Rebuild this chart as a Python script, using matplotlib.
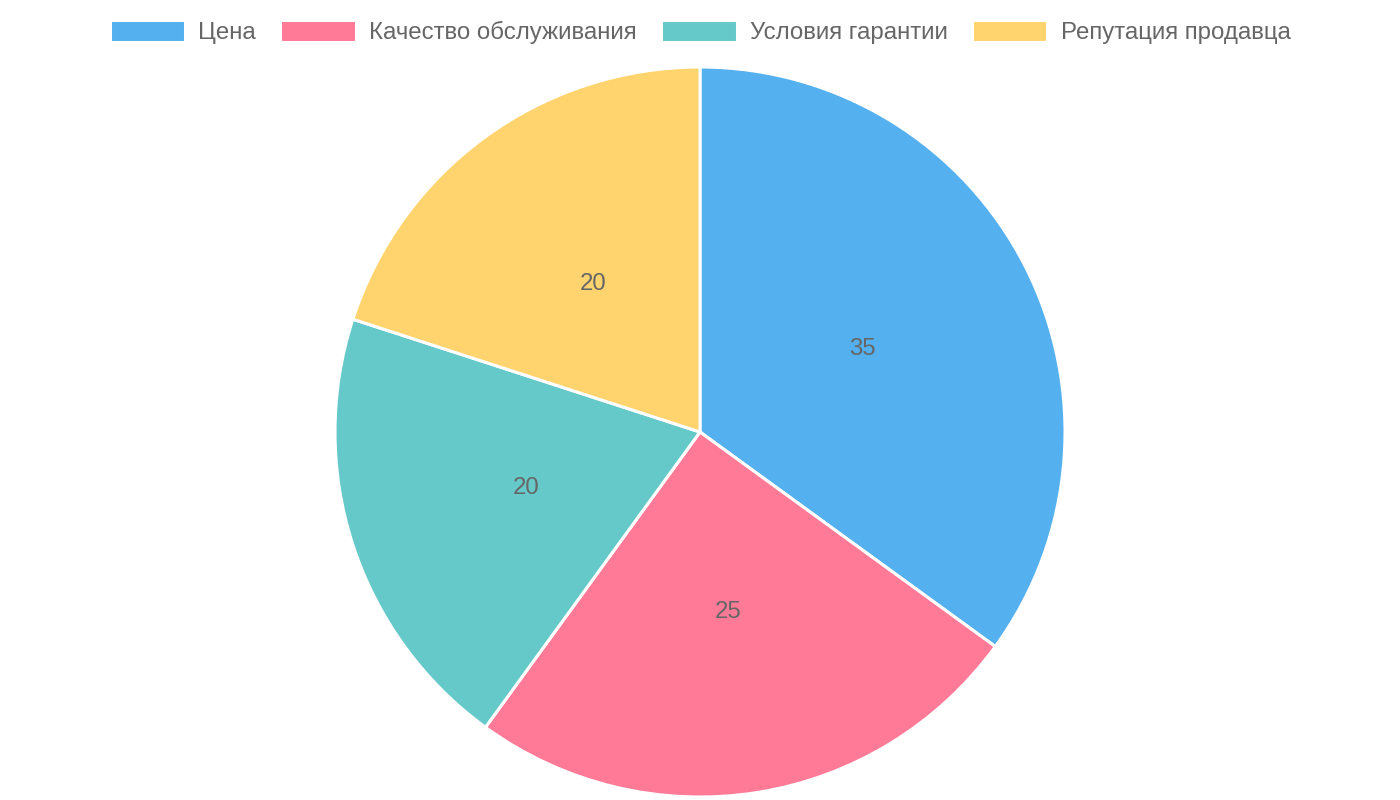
import matplotlib
matplotlib.use("Agg")
import matplotlib.pyplot as plt

labels = ["Цена", "Качество обслуживания", "Условия гарантии", "Репутация продавца"]
values = [35, 25, 20, 20]
colors = ["#54b0ee", "#ff7a96", "#66c9c9", "#ffd46f"]

plt.rcParams["font.family"] = ["Liberation Sans", "DejaVu Sans"]

fig = plt.figure(figsize=(14, 8), dpi=100)
# pie centred at (700, 432) px, radius ~365 px
ax = fig.add_axes([335 / 1400, 3 / 800, 730 / 1400, 730 / 800])

wedges, texts = ax.pie(
    values,
    labels=[str(v) for v in values],
    colors=colors,
    startangle=90,
    counterclock=False,
    labeldistance=0.5,
    wedgeprops=dict(edgecolor="white", linewidth=2.2),
    textprops=dict(color="#666666", fontsize=17.3, ha="center", va="center"),
)
ax.set_xlim(-1, 1)
ax.set_ylim(-1, 1)
ax.set_aspect("equal")
ax.axis("off")

fig.legend(
    wedges, labels,
    loc="center", bbox_to_anchor=(0.5, 1 - 32 / 800),
    ncol=4, frameon=False,
    fontsize=17.3, labelcolor="#666666",
    handlelength=3.15, handleheight=1.0, handletextpad=0.55,
    columnspacing=1.0,
)

fig.savefig("out.png", dpi=100, facecolor="white")
